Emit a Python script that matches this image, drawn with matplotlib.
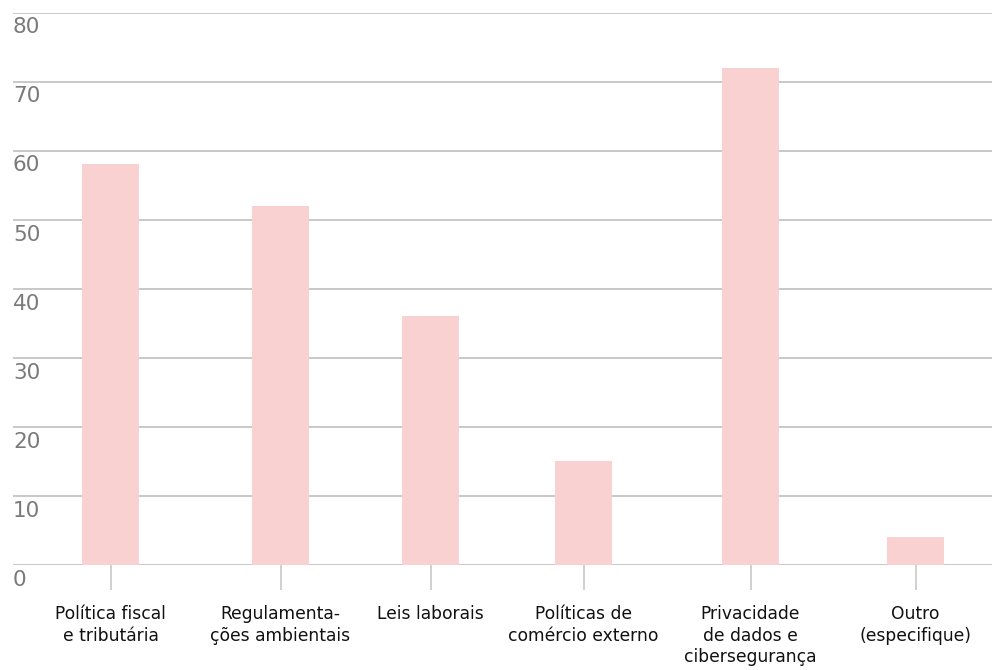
import matplotlib.pyplot as plt

categories = ["Política fiscal\ne tributária", "Regulamenta-\nções ambientais", "Leis laborais",
              "Políticas de\ncomércio externo", "Privacidade\nde dados e\ncibersegurança",
              "Outro\n(especifique)"]
values = [58, 52, 36, 15, 72, 4]
yticks = [0, 10, 20, 30, 40, 50, 60, 70, 80]

# bar centres in pixel units along the x axis (spacing is uneven)
xpos = [110.5, 280.5, 430.5, 583.5, 750.5, 915.5]

plt.rcParams['font.family'] = ['DejaVu Sans']

fig = plt.figure(figsize=(9.92, 6.70), dpi=100)
ax = fig.add_axes([13 / 992, (670 - 565) / 670, 1 - 13 / 992, (565 - 12.5) / 670])

ax.bar(xpos, values, width=57, color="#f9d1d1", zorder=2)

ax.set_xlim(13, 992)
ax.set_ylim(0, 80)
for v in yticks:
    ax.axhline(v, color="#c8c8c8", lw=1.4, zorder=1)
    ax.annotate(str(v), xy=(0, v), xycoords=("axes fraction", "data"),
                xytext=(0, -3.5), textcoords="offset points",
                ha="left", va="top", fontsize=15.5, color="#7a7a7a")

ax.set_yticks([])
ax.set_xticks(xpos, categories, fontsize=12.3, color="#111111", linespacing=1.25)
ax.tick_params(axis="x", length=18, width=1.2, color="#c8c8c8", pad=11)
for s in ax.spines.values():
    s.set_visible(False)

fig.savefig("out.png", dpi=100)
